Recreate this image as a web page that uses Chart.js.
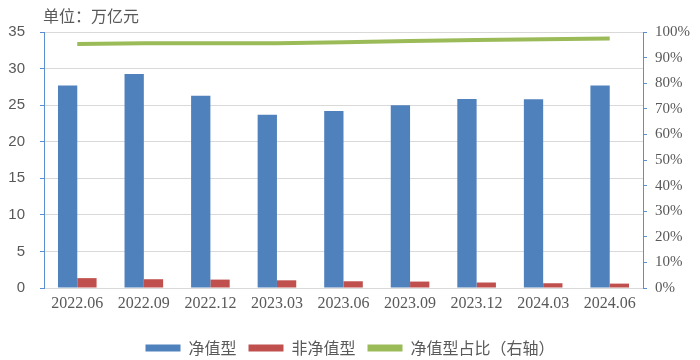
<!DOCTYPE html>
<html>
<head>
<meta charset="utf-8">
<script src="https://cdn.jsdelivr.net/npm/chart.js@4"></script>
<style>
  html, body { margin: 0; padding: 0; background: #fff; }
  #wrap { width: 700px; height: 360px; position: relative; }
</style>
</head>
<body>
<div id="wrap"><canvas id="myChart"></canvas></div>
<script>
// data
const labels = ["2022.06", "2022.09", "2022.12", "2023.03", "2023.06", "2023.09", "2023.12", "2024.03", "2024.06"];
const jingzhiData = [27.7, 29.25, 26.3, 23.7, 24.2, 25.0, 25.85, 25.8, 27.7];
const feiJingzhiData = [1.35, 1.2, 1.15, 1.05, 0.92, 0.88, 0.75, 0.65, 0.6];
const zhanbiData = [95.3, 95.6, 95.6, 95.6, 96.0, 96.5, 96.9, 97.2, 97.5];
const unitText = "单位：万亿元";

const gray = "#595959";
const axisBlue = "#5b8fd0";
const cjk = "'Noto Sans CJK SC', sans-serif";

const unitTitle = {
  id: "unitTitle",
  afterDraw(chart) {
    const ctx = chart.ctx;
    ctx.save();
    ctx.font = "16px " + cjk;
    ctx.fillStyle = gray;
    ctx.textBaseline = "middle";
    ctx.textAlign = "left";
    ctx.fillText(unitText, 43, 16);
    ctx.restore();
  }
};

const ctx = document.getElementById("myChart");
new Chart(ctx, {
  type: "bar",
  data: {
    labels: labels,
    datasets: [
      {
        label: "净值型",
        data: jingzhiData,
        backgroundColor: "#4f81bd",
        yAxisID: "y",
        categoryPercentage: 0.58,
        barPercentage: 1.0
      },
      {
        label: "非净值型",
        data: feiJingzhiData,
        backgroundColor: "#c0504d",
        yAxisID: "y",
        categoryPercentage: 0.58,
        barPercentage: 1.0
      },
      {
        type: "line",
        label: "净值型占比（右轴）",
        data: zhanbiData,
        borderColor: "#9bbb59",
        backgroundColor: "#9bbb59",
        borderWidth: 4,
        pointRadius: 0,
        tension: 0,
        yAxisID: "y1"
      }
    ]
  },
  options: {
    responsive: true,
    maintainAspectRatio: false,
    animation: false,
    layout: { padding: { top: 32, bottom: -6, left: 0, right: 0 } },
    plugins: {
      tooltip: { enabled: false },
      legend: {
        position: "bottom",
        labels: {
          boxWidth: 35,
          boxHeight: 7,
          padding: 12,
          color: gray,
          font: { size: 16, family: cjk },
          generateLabels(chart) {
            const items = Chart.defaults.plugins.legend.labels.generateLabels(chart);
            items.forEach((it) => { it.lineWidth = 0; });
            return items;
          }
        }
      }
    },
    scales: {
      x: {
        grid: { display: false },
        border: { display: true, color: "#d9d9d9" },
        afterFit(scale) { scale.height = 40; },
        ticks: {
          color: gray,
          font: { size: 16, family: "'Liberation Serif', serif" },
          padding: -2,
          maxRotation: 0
        }
      },
      y: {
        position: "left",
        min: 0,
        max: 35,
        afterFit(scale) { scale.width = 44; },
        ticks: {
          stepSize: 5,
          color: gray,
          padding: 15,
          font: { size: 15, family: "'Liberation Sans', sans-serif" }
        },
        grid: { color: "#d9d9d9", tickColor: axisBlue, tickLength: 4 },
        border: { color: axisBlue }
      },
      y1: {
        position: "right",
        min: 0,
        max: 100,
        afterFit(scale) { scale.width = 57; },
        ticks: {
          stepSize: 10,
          color: gray,
          padding: 8,
          font: { size: 15, family: "'Liberation Serif', serif" },
          callback: (v) => v + "%"
        },
        grid: { drawOnChartArea: false, tickColor: axisBlue, tickLength: 4 },
        border: { color: axisBlue }
      }
    }
  },
  plugins: [unitTitle]
});
</script>
</body>
</html>
